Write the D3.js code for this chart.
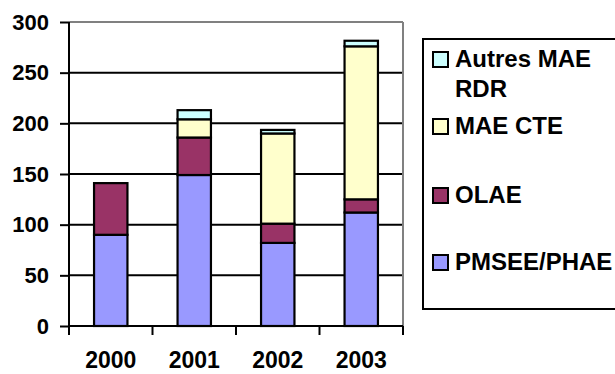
<!DOCTYPE html>
<html><head><meta charset="utf-8">
<script src="https://cdn.jsdelivr.net/npm/d3@7"></script>
<style>body{margin:0;background:#fff}svg{display:block}text{font-family:"Liberation Sans",Arial,sans-serif;font-weight:bold}</style>
</head><body>
<svg id="c" width="615" height="374"></svg>
<script>
const years = ["2000","2001","2002","2003"];
const seriesNames = ["PMSEE/PHAE","OLAE","MAE CTE","Autres MAE RDR"];
const pmsee = [90, 149, 82, 112];
const olae = [51, 37, 19, 13];
const cte = [0, 18, 89, 151];
const autres = [0, 9, 3.5, 5.5];
const yTicks = [0,50,100,150,200,250,300];
const colors = ["#9999FF","#993366","#FFFFCC","#CCFFFF"];

const rows = years.map((y,i)=>({year:y,"PMSEE/PHAE":pmsee[i],"OLAE":olae[i],"MAE CTE":cte[i],"Autres MAE RDR":autres[i]}));
const stack = d3.stack().keys(seriesNames)(rows);

const svg = d3.select("#c");
const L=69,R=403,T=22,B=326;
const x = d3.scaleBand().domain(years).range([L,R]).paddingInner(0.6).paddingOuter(0.3);
const xb = d3.scaleBand().domain(years).range([L,R]);
const y = d3.scaleLinear().domain([0,300]).range([B,T]);

svg.append("g").selectAll("line").data(yTicks.filter(t=>t>0&&t<300)).join("line")
  .attr("x1",L).attr("x2",R).attr("y1",d=>y(d)).attr("y2",d=>y(d))
  .attr("stroke","#000").attr("stroke-width",2);
svg.append("line").attr("x1",L).attr("x2",R).attr("y1",y(300)).attr("y2",y(300)).attr("stroke","#808080").attr("stroke-width",2);
svg.append("line").attr("x1",R).attr("x2",R).attr("y1",y(300)).attr("y2",B).attr("stroke","#808080").attr("stroke-width",2);

svg.append("g").selectAll("g").data(stack).join("g")
  .attr("fill",(d,i)=>colors[i])
  .selectAll("rect").data(d=>d.filter(s=>s[1]-s[0]>0)).join("rect")
  .attr("x",d=>x(d.data.year)).attr("width",x.bandwidth())
  .attr("y",d=>y(d[1])).attr("height",d=>y(d[0])-y(d[1]))
  .attr("stroke","#000").attr("stroke-width",2.2);

const ya = svg.append("g").attr("transform",`translate(${L},0)`)
  .call(d3.axisLeft(y).tickValues(yTicks).tickSize(9).tickPadding(11));
ya.select(".domain").attr("stroke","#000").attr("stroke-width",2).attr("d",`M0,${T}V${B}`);
ya.selectAll(".tick line").attr("stroke","#000").attr("stroke-width",2);
ya.selectAll(".tick text").attr("font-size",22).attr("fill","#000").attr("font-family","Liberation Sans, Arial, sans-serif").attr("font-weight","bold");

const xa = svg.append("g").attr("transform",`translate(0,${B})`)
  .call(d3.axisBottom(xb).tickSize(0).tickPadding(26));
xa.select(".domain").attr("stroke","#000").attr("stroke-width",2).attr("d",`M${L},0H${R}`);
xa.selectAll(".tick text").attr("font-size",23).attr("fill","#000").attr("font-family","Liberation Sans, Arial, sans-serif").attr("font-weight","bold");
xa.append("g").selectAll("line").data(d3.range(years.length+1)).join("line")
  .attr("x1",i=>L+i*xb.step()).attr("x2",i=>L+i*xb.step()).attr("y1",0).attr("y2",9)
  .attr("stroke","#000").attr("stroke-width",2);

const lg = svg.append("g");
lg.append("rect").attr("x",423).attr("y",39).attr("width",200).attr("height",270)
  .attr("fill","#fff").attr("stroke","#000").attr("stroke-width",2);
const legendItems = [
  {lines:["Autres MAE","RDR"], c:colors[3], base:67},
  {lines:["MAE CTE"], c:colors[2], base:134},
  {lines:["OLAE"], c:colors[1], base:203},
  {lines:["PMSEE/PHAE"], c:colors[0], base:270}
];
const li = lg.selectAll("g.it").data(legendItems).join("g").attr("class","it");
li.append("rect").attr("x",433).attr("y",d=>d.base-15).attr("width",15).attr("height",15)
  .attr("fill",d=>d.c).attr("stroke","#000").attr("stroke-width",2);
li.append("text").attr("x",455).attr("y",d=>d.base).attr("font-size",24).attr("fill","#000")
  .attr("font-weight","bold").attr("font-family","Liberation Sans, Arial, sans-serif")
  .attr("textLength",null)
  .selectAll("tspan").data(d=>d.lines).join("tspan").attr("x",455).attr("dy",(d,i)=>i?30:0).text(d=>d);
</script>
</body></html>
